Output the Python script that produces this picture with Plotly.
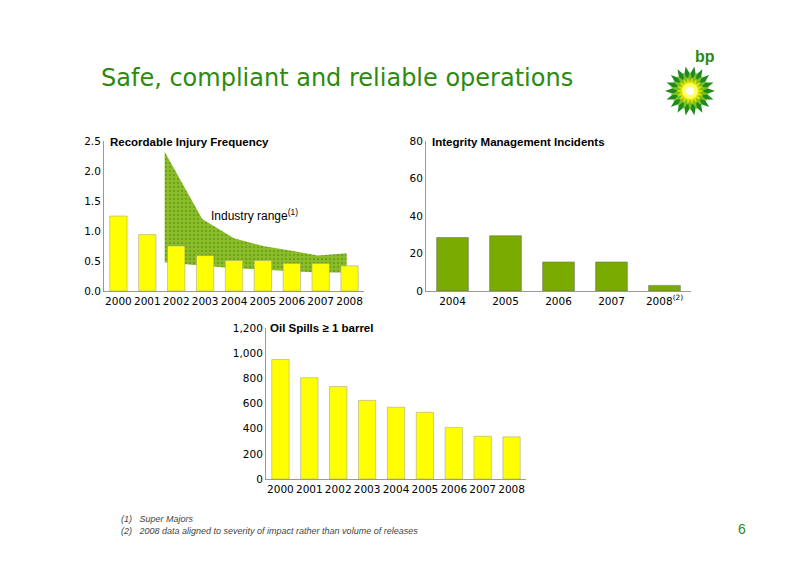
import plotly.graph_objects as go
import math

years = ["2000","2001","2002","2003","2004","2005","2006","2007","2008"]
rif = [1.25, 0.94, 0.75, 0.59, 0.51, 0.51, 0.46, 0.46, 0.42]
band_x = [1.6, 2.9, 4.0, 5.0, 6.0, 6.9, 7.9]
band_hi = [2.32, 1.2, 0.88, 0.75, 0.67, 0.59, 0.63]
band_lo = [0.48, 0.42, 0.38, 0.36, 0.33, 0.31, 0.31]
imi_years = ["2004","2005","2006","2007","2008<sup>(2)</sup>"]
imi = [28.5, 29.5, 15.5, 15.5, 3]
spills = [950, 805, 735, 625, 570, 530, 410, 340, 335]

YEL = "#ffff00"; GRN = "#7aab00"
W, H = 800, 566
def fx(x): return (x - 7) / W
def fy(y): return 1 - (y - 7) / H
def dx(a, b): return [fx(a), fx(b)]
def dy(a, b): return [fy(b), fy(a)]

fig = go.Figure()
fig.add_trace(go.Scatter(x=band_x + band_x[::-1], y=band_hi + band_lo[::-1], fill="toself",
    fillcolor="#8cbd2a", line=dict(width=0), mode="lines", hoverinfo="skip",
    fillpattern=dict(shape=".", bgcolor="#8cbd2a", fgcolor="#4f8a10", size=4, solidity=0.3),
    xaxis="x4", yaxis="y4"))
fig.add_trace(go.Bar(x=list(range(9)), y=rif, marker=dict(color=YEL, line=dict(color="#999", width=0.5)),
    width=0.6, xaxis="x", yaxis="y"))
fig.add_trace(go.Bar(x=imi_years, y=imi, marker=dict(color=GRN, line=dict(color="#666", width=0.5)),
    width=0.6, xaxis="x2", yaxis="y2"))
fig.add_trace(go.Bar(x=years, y=spills, marker=dict(color=YEL, line=dict(color="#999", width=0.5)),
    width=0.6, xaxis="x3", yaxis="y3"))

tf = dict(size=10.5, color="black", family="DejaVu Sans")
ax = dict(showgrid=False, showline=True, linecolor="#999", ticks="", tickangle=0, tickfont=tf, automargin=False)
fig.update_layout(
    width=W, height=H, margin=dict(l=0, r=0, t=0, b=0), plot_bgcolor="rgba(0,0,0,0)", paper_bgcolor="white",
    showlegend=False, bargap=0.4, font=dict(family="Liberation Sans, Arial", color="black"),
    xaxis4=dict(domain=dx(103, 363), range=[-0.5, 8.5], visible=False, anchor="y4", automargin=False),
    yaxis4=dict(domain=dy(140, 290), range=[0, 2.5], visible=False, anchor="x4", automargin=False),
    xaxis=dict(ax, domain=dx(103, 363), range=[-0.5, 8.5], tickvals=list(range(9)), ticktext=years, zeroline=False, overlaying="x4", anchor="y"),
    yaxis=dict(ax, domain=dy(140, 290), range=[0, 2.5], tickvals=[0, 0.5, 1, 1.5, 2, 2.5], tickformat=".1f", anchor="x", overlaying="y4"),
    xaxis2=dict(ax, domain=dx(425, 690), anchor="y2"),
    yaxis2=dict(ax, domain=dy(140, 290), range=[0, 80], tickvals=[0, 20, 40, 60, 80], anchor="x2"),
    xaxis3=dict(ax, domain=dx(265, 525), anchor="y3"),
    yaxis3=dict(ax, domain=dy(327, 478), range=[0, 1200], tickvals=[0, 200, 400, 600, 800, 1000, 1200], tickformat=",", anchor="x3"),
)

ann = [
    dict(x=fx(98), y=fy(77), text="Safe, compliant and reliable operations", font=dict(size=24, color="#2d8a0f", family="DejaVu Sans"), xanchor="left"),
    dict(x=fx(107), y=fy(141), text="<b>Recordable Injury Frequency</b>", font=dict(size=11.5), xanchor="left"),
    dict(x=fx(429), y=fy(141), text="<b>Integrity Management Incidents</b>", font=dict(size=11.5), xanchor="left"),
    dict(x=fx(267), y=fy(327), text="<b>Oil Spills ≥ 1 barrel</b>", font=dict(size=11.5), xanchor="left"),
    dict(x=fx(208), y=fy(214), text="Industry range<sup>(1)</sup>", font=dict(size=12), xanchor="left"),
    dict(x=fx(118), y=fy(518), text="<i>(1)   Super Majors</i>", font=dict(size=9, color="#444"), xanchor="left"),
    dict(x=fx(118), y=fy(530), text="<i>(2)   2008 data aligned to severity of impact rather than volume of releases</i>", font=dict(size=9, color="#444"), xanchor="left"),
    dict(x=fx(747), y=fy(528), text="6", font=dict(size=14, color="#2d8a0f"), xanchor="right"),
    dict(x=fx(704), y=fy(55), text="<b>bp</b>", font=dict(size=16, color="#2d8a0f"), xanchor="center"),
]
for a in ann:
    a.update(xref="paper", yref="paper", showarrow=False, yanchor="middle")
fig.update_layout(annotations=ann)

cx, cy = 689 - 7, 90 - 7
def star(ro, ri, n, rot=0):
    pts = []
    for i in range(2 * n):
        r = ro if i % 2 == 0 else ri
        t = math.pi * i / n + rot
        pts.append(((cx + r * math.cos(t)) / W, 1 - (cy + r * math.sin(t)) / H))
    return "M " + " L ".join(f"{x:.5f},{y:.5f}" for x, y in pts) + " Z"
def circ(r, col):
    return dict(type="circle", x0=(cx - r) / W, x1=(cx + r) / W, y0=1 - (cy + r) / H, y1=1 - (cy - r) / H, fillcolor=col, line=dict(width=0))
shapes = [
    dict(type="path", path=star(25, 17, 18), fillcolor="#1f8a1f", line=dict(width=0)),
    dict(type="path", path=star(20, 12, 18, 0.17), fillcolor="#7cc21e", line=dict(width=0)),
    dict(type="path", path=star(14, 9, 18), fillcolor="#e0e000", line=dict(width=0)),
    circ(8, "#ffff66"), circ(4, "white"),
]
for s in shapes:
    s.update(xref="paper", yref="paper")
fig.update_layout(shapes=shapes)
fig.write_html("out.html")
